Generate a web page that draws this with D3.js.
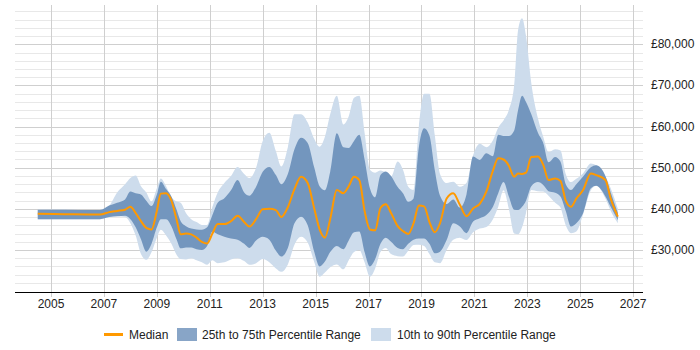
<!DOCTYPE html>
<html>
<head>
<meta charset="utf-8">
<script src="https://cdn.jsdelivr.net/npm/d3@7"></script>
<style>
  body { margin: 0; background: #fff; }
  svg text { font-family: "Liberation Sans", Arial, sans-serif; font-size: 12px; fill: #222; }
</style>
</head>
<body>
<div id="chart"></div>
<script>
// decimal years and percentile values (in £ thousands)
const dates = [2004.5, 2005.5, 2006.85, 2007.2, 2007.5, 2007.8, 2008.0, 2008.2, 2008.4, 2008.6, 2008.8, 2009.0, 2009.15, 2009.35, 2009.55, 2009.75, 2009.9, 2010.1, 2010.3, 2010.5, 2010.7, 2010.9, 2011.1, 2011.3, 2011.55, 2011.8, 2012.05, 2012.3, 2012.5, 2012.75, 2013.0, 2013.25, 2013.5, 2013.7, 2013.95, 2014.2, 2014.45, 2014.7, 2014.95, 2015.15, 2015.35, 2015.55, 2015.8, 2016.05, 2016.25, 2016.45, 2016.65, 2016.85, 2017.05, 2017.25, 2017.45, 2017.65, 2017.85, 2018.1, 2018.3, 2018.5, 2018.7, 2018.9, 2019.1, 2019.3, 2019.5, 2019.7, 2019.95, 2020.2, 2020.45, 2020.7, 2020.95, 2021.2, 2021.45, 2021.7, 2021.9, 2022.1, 2022.3, 2022.5, 2022.65, 2022.8, 2022.95, 2023.15, 2023.4, 2023.6, 2023.8, 2024.05, 2024.25, 2024.45, 2024.65, 2024.85, 2025.1, 2025.4, 2025.6, 2025.95, 2026.15, 2026.42];

const median = [38.8, 38.7, 38.6, 39.2, 39.5, 39.8, 40.5, 39.0, 37.0, 35.4, 35.0, 39.5, 43.7, 43.8, 42.0, 37.3, 33.8, 34.0, 33.8, 33.0, 32.0, 31.6, 34.0, 36.3, 36.3, 37.0, 38.3, 36.8, 35.7, 37.5, 39.9, 40.0, 39.7, 38.0, 40.4, 44.8, 47.8, 46.3, 40.0, 35.0, 33.0, 37.5, 44.6, 43.8, 45.5, 47.8, 47.0, 39.5, 35.0, 34.8, 40.2, 41.1, 39.0, 35.8, 34.6, 33.9, 36.5, 40.8, 40.6, 36.8, 34.3, 36.5, 42.5, 43.8, 41.0, 38.2, 40.1, 41.2, 44.2, 49.3, 52.3, 52.0, 50.5, 47.8, 48.6, 48.5, 48.8, 52.6, 52.7, 50.7, 47.0, 47.4, 46.8, 42.0, 40.5, 42.5, 44.5, 48.6, 48.2, 47.0, 42.5, 38.1];

const p75 = [39.8, 39.8, 39.7, 40.8, 41.5, 42.3, 44.2, 43.8, 43.5, 42.0, 40.7, 43.5, 46.6, 44.8, 43.0, 39.7, 37.0, 35.8, 35.2, 35.0, 34.9, 35.5, 38.5, 41.5, 42.6, 44.5, 47.0, 44.0, 43.2, 45.4, 49.0, 50.2, 48.2, 46.0, 48.5, 54.5, 57.3, 56.0, 50.0, 45.5, 44.5, 49.0, 58.4, 55.0, 54.8, 56.5, 58.0, 52.0, 45.0, 42.8, 48.2, 49.1, 48.0, 45.3, 43.8, 41.7, 42.5, 55.0, 59.6, 57.8, 49.5, 43.2, 41.2, 42.3, 40.3, 43.5, 52.7, 51.9, 53.5, 52.8, 58.0, 57.7, 57.7, 59.0, 64.0, 67.5, 66.0, 63.0, 58.5, 56.0, 51.3, 52.6, 51.5, 46.0, 44.6, 46.0, 47.8, 50.1, 50.6, 48.0, 44.0, 39.0];

const p25 = [37.5, 37.5, 37.5, 38.0, 38.2, 38.3, 37.5, 35.5, 32.6, 29.6, 31.5, 35.5, 37.5, 37.5, 35.8, 32.5, 30.4, 30.6, 30.6, 30.2, 30.0, 31.0, 34.5, 33.8, 33.2, 32.8, 32.5, 31.5, 30.5, 32.3, 33.2, 32.5, 29.8, 28.4, 30.5, 36.5, 38.1, 36.0, 29.5, 26.0, 27.2, 29.5, 31.0, 30.2, 32.3, 34.3, 34.5, 29.5, 26.0, 27.8, 31.5, 33.0, 32.0, 30.5, 30.2, 31.5, 32.5, 32.8, 32.8, 31.5, 29.2, 29.6, 32.4, 36.5, 35.7, 34.1, 36.9, 37.7, 38.5, 40.5, 43.8, 46.5, 43.0, 39.8, 39.7, 40.5, 42.0, 45.5, 46.5, 45.8, 44.3, 43.9, 43.0, 39.5, 35.7, 36.5, 38.9, 45.0, 45.6, 43.0, 40.5, 37.2];

const p90 = [39.8, 39.8, 39.7, 40.8, 44.0, 46.0, 47.5, 48.1, 45.5, 44.0, 41.8, 45.0, 47.4, 45.5, 42.8, 41.8, 41.5, 39.0, 37.5, 36.8, 36.1, 36.1, 40.5, 44.0, 46.3, 48.0, 50.2, 48.5, 47.5, 50.0, 56.5, 58.5, 54.0, 50.3, 55.0, 63.0, 63.0, 61.0, 57.0, 55.1, 57.5, 63.0, 67.5, 60.5, 62.5, 67.0, 67.5, 58.5, 49.5, 48.8, 49.3, 48.8, 47.8, 51.5, 49.5, 45.4, 44.6, 60.0, 68.0, 68.0, 58.0, 48.5, 46.3, 46.6, 45.4, 46.3, 53.0, 55.8, 55.0, 56.7, 59.8, 61.5, 64.0, 70.0, 83.5, 86.3, 82.0, 70.5, 62.0, 57.5, 53.8, 54.5, 54.2, 48.5, 46.5, 47.3, 48.6, 51.0, 50.6, 47.9, 45.0, 40.0];

const p10 = [37.5, 37.5, 37.5, 38.0, 38.2, 38.0, 36.5, 33.5, 29.0, 27.6, 29.5, 33.0, 34.9, 33.5, 31.5, 28.8, 27.8, 27.7, 28.0, 27.5, 27.0, 26.4, 27.5, 26.8, 27.0, 27.7, 28.0, 27.3, 26.4, 26.8, 27.8, 27.0, 25.5, 24.7, 26.5, 31.3, 33.2, 31.8, 27.0, 23.5, 24.5, 25.8, 26.5, 25.3, 27.5, 29.5, 30.0, 27.0, 23.5, 25.5, 29.5, 30.5, 29.0, 28.5, 28.4, 29.8, 31.2, 31.3, 31.0, 29.0, 27.0, 26.8, 30.0, 32.5, 33.0, 32.4, 34.3, 35.2, 35.6, 37.5, 40.5, 44.5, 40.0, 34.0, 33.8, 35.5, 39.0, 44.6, 44.3, 44.2, 43.2, 41.5, 40.3, 36.0, 34.1, 34.5, 38.5, 44.5, 45.6, 42.5, 39.5, 36.5];

const yearTicks = [2005, 2007, 2009, 2011, 2013, 2015, 2017, 2019, 2021, 2023, 2025, 2027];
const salaryTicks = [30000, 40000, 50000, 60000, 70000, 80000];

const width = 700, height = 350;
const plot = {left: 15, right: 643, top: 5, bottom: 292};

const svg = d3.select("#chart").append("svg")
    .attr("width", width)
    .attr("height", height);

const x = d3.scaleLinear().domain([2003.64, 2027.37]).range([plot.left, plot.right]);
const y = d3.scaleLinear().domain([19790, 89550]).range([plot.bottom, plot.top]);

const rows = dates.map((d, i) => ({
    date: d, med: median[i] * 1000, lo25: p25[i] * 1000, hi75: p75[i] * 1000,
    lo10: p10[i] * 1000, hi90: p90[i] * 1000
}));

// horizontal grid: minor every 2k, major every 10k
const minor = d3.range(22000, 88001, 2000);
svg.append("g").selectAll("line").data(minor).enter().append("line")
    .attr("x1", plot.left).attr("x2", plot.right)
    .attr("y1", d => Math.round(y(d)) + 0.5).attr("y2", d => Math.round(y(d)) + 0.5)
    .attr("stroke", d => d % 10000 === 0 ? "#cfcfcf" : "#e8e8e8")
    .attr("stroke-width", 1);

// vertical grid
svg.append("g").selectAll("line").data(yearTicks).enter().append("line")
    .attr("x1", d => Math.round(x(d)) + 0.5).attr("x2", d => Math.round(x(d)) + 0.5)
    .attr("y1", plot.top).attr("y2", plot.bottom + 5)
    .attr("stroke", "#cfcfcf");

const curve = d3.curveMonotoneX;

svg.append("path").datum(rows)
    .attr("fill", "#cddcec")
    .attr("d", d3.area().curve(curve).x(d => x(d.date)).y0(d => y(d.lo10)).y1(d => y(d.hi90)));

svg.append("path").datum(rows)
    .attr("fill", "#7396be")
    .attr("d", d3.area().curve(curve).x(d => x(d.date)).y0(d => y(d.lo25)).y1(d => y(d.hi75)));

svg.append("path").datum(rows)
    .attr("fill", "none")
    .attr("stroke", "#ff9900")
    .attr("stroke-width", 2)
    .attr("d", d3.line().curve(curve).x(d => x(d.date)).y(d => y(d.med)));

// x axis
svg.append("line")
    .attr("x1", plot.left).attr("x2", plot.right)
    .attr("y1", plot.bottom + 0.5).attr("y2", plot.bottom + 0.5)
    .attr("stroke", "#000");

svg.append("g").selectAll("text").data(yearTicks).enter().append("text")
    .attr("x", d => x(d))
    .attr("y", 308)
    .attr("text-anchor", "middle")
    .text(d => d);

// y labels on the right
svg.append("g").selectAll("text").data(salaryTicks).enter().append("text")
    .attr("x", 651)
    .attr("y", d => y(d) + 4)
    .text(d => "£" + d3.format(",")(d));

// legend
const legend = svg.append("g");
legend.append("line")
    .attr("x1", 104).attr("x2", 123).attr("y1", 334.5).attr("y2", 334.5)
    .attr("stroke", "#ff9900").attr("stroke-width", 3);
legend.append("text").attr("x", 129).attr("y", 339).text("Median");
legend.append("rect").attr("x", 177).attr("y", 328).attr("width", 20).attr("height", 13).attr("fill", "#88a5c7");
legend.append("text").attr("x", 202).attr("y", 339).text("25th to 75th Percentile Range");
legend.append("rect").attr("x", 371).attr("y", 328).attr("width", 20).attr("height", 13).attr("fill", "#cddcec");
legend.append("text").attr("x", 397).attr("y", 339).text("10th to 90th Percentile Range");
</script>
</body>
</html>
